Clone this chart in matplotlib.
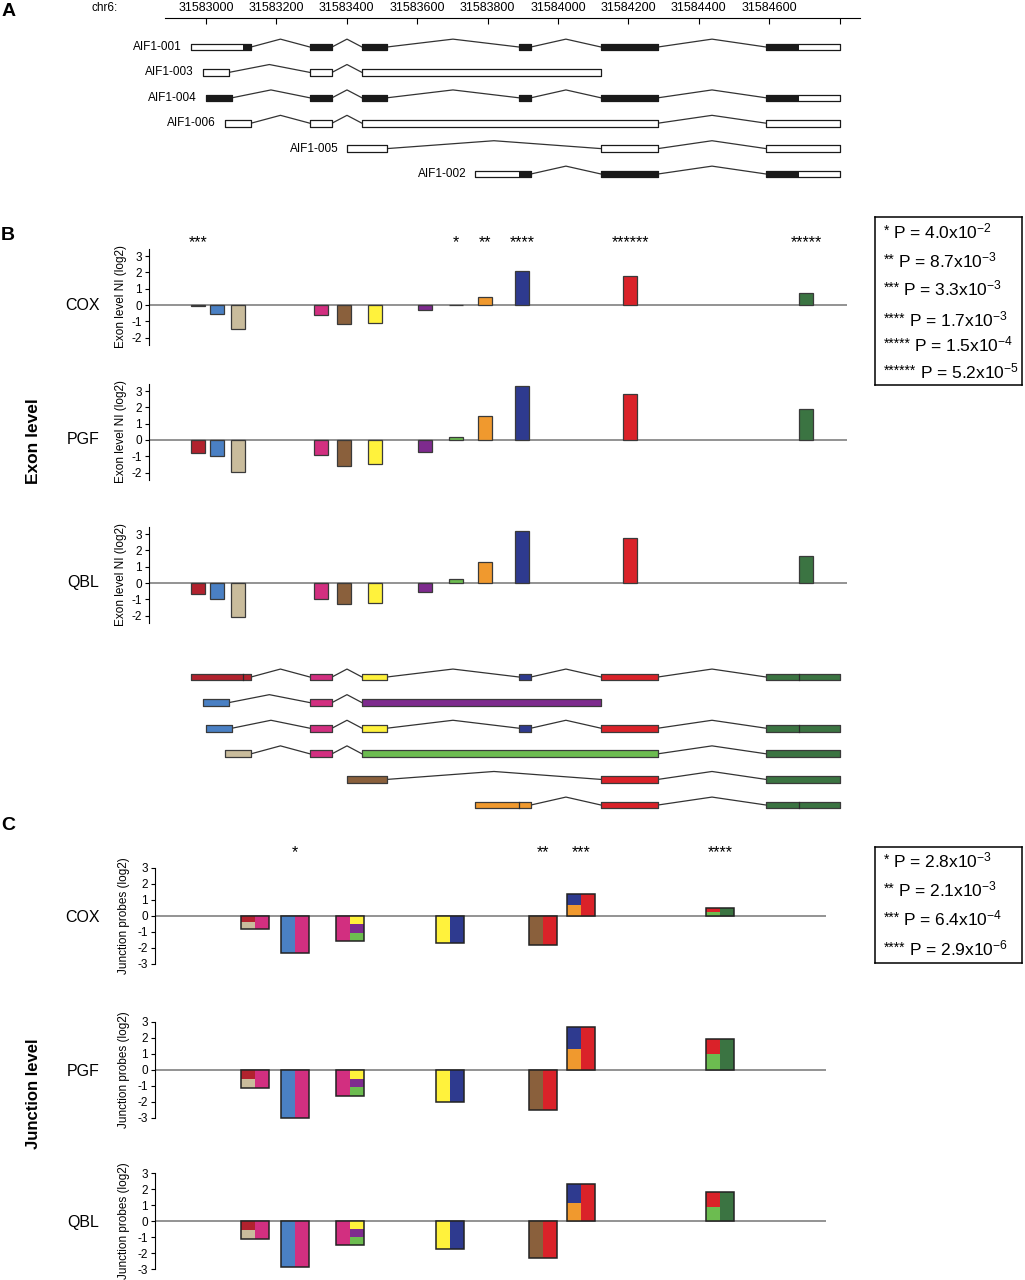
import numpy as np
import matplotlib.pyplot as plt

plt.rcParams['font.family'] = ['Liberation Sans', 'DejaVu Sans']
plt.rcParams['axes.unicode_minus'] = False
plt.rcParams['mathtext.fontset'] = 'custom'
plt.rcParams['mathtext.rm'] = 'Liberation Sans'
plt.rcParams['mathtext.it'] = 'Liberation Sans:italic'
plt.rcParams['mathtext.bf'] = 'Liberation Sans:bold'

# ---------------- data ----------------
tx_names = ["AIF1-001", "AIF1-003", "AIF1-004", "AIF1-006", "AIF1-005", "AIF1-002"]
tx_exons = [
    [(31582957, 31583128), (31583295, 31583358), (31583443, 31583514), (31583889, 31583923), (31584122, 31584284), (31584591, 31584801)],
    [(31582991, 31583065), (31583295, 31583358), (31583443, 31584122)],
    [(31583000, 31583074), (31583295, 31583358), (31583443, 31583514), (31583889, 31583923), (31584122, 31584284), (31584591, 31584801)],
    [(31583054, 31583128), (31583295, 31583358), (31583443, 31584284), (31584591, 31584801)],
    [(31583401, 31583514), (31584122, 31584284), (31584591, 31584801)],
    [(31583764, 31583923), (31584122, 31584284), (31584591, 31584801)],
]
tx_cds = [(31583105, 31584685), None, (31583000, 31584685), None, None, (31583889, 31584685)]
# which exon probe set (colour) each exon belongs to
tx_exon_ids = [[0, 3, 5, 9, 10, 11], [1, 3, 6], [1, 3, 5, 9, 10, 11], [2, 3, 7, 11], [4, 10, 11], [8, 10, 11]]

exon_colors = ['#B2222E', '#4A80C4', '#C9BC9C', '#D22F80', '#8A603C', '#FFF23C',
               '#7E2B8E', '#6CBC50', '#F0992E', '#2E3A8F', '#DA2229', '#3B7442']
samples = ['COX', 'PGF', 'QBL']
cox_exon = [-0.06, -0.53, -1.45, -0.63, -1.16, -1.12, -0.31, 0.0, 0.49, 2.07, 1.75, 0.72]
pgf_exon = [-0.81, -1.01, -1.95, -0.91, -1.60, -1.48, -0.73, 0.16, 1.46, 3.30, 2.84, 1.91]
qbl_exon = [-0.68, -1.01, -2.07, -0.99, -1.26, -1.22, -0.58, 0.23, 1.26, 3.17, 2.77, 1.67]
exon_stars = ['***', '', '', '', '', '', '', '*', '**', '****', '******', '*****']
exon_legend = ['4.0x10$^{-2}$', '8.7x10$^{-3}$', '3.3x10$^{-3}$', '1.7x10$^{-3}$', '1.5x10$^{-4}$', '5.2x10$^{-5}$']

junc_left = [[0, 2], [1], [3], [5], [4], [8, 9], [7, 10]]
junc_right = [[3], [3], [5, 6, 7], [9], [10], [10], [11]]
cox_junc = [-0.81, -2.33, -1.58, -1.69, -1.81, 1.37, 0.52]
pgf_junc = [-1.11, -2.98, -1.61, -2.01, -2.52, 2.67, 1.94]
qbl_junc = [-1.15, -2.85, -1.49, -1.72, -2.31, 2.31, 1.79]
junc_stars = ['', '*', '', '', '**', '***', '****']
junc_legend = ['2.8x10$^{-3}$', '2.1x10$^{-3}$', '6.4x10$^{-4}$', '2.9x10$^{-6}$']

# ---------------- layout ----------------
W, H = 1025, 1280
fig = plt.figure(figsize=(W / 100, H / 100), dpi=100)

def rect(x0, y0, x1, y1):
    return [x0 / W, 1 - y1 / H, (x1 - x0) / W, (y1 - y0) / H]

def g_at(px):  # pixel column -> genomic position
    return 31583000 + (px - 206) / 0.352

def ftext(x, y, s, **kw):
    fig.text(x / W, 1 - y / H, s, **kw)

exon_pos = [31582977, 31583031, 31583091, 31583327, 31583392, 31583480,
            31583622, 31583710, 31583793, 31583898, 31584205, 31584705]
junc_pos = [31583139, 31583253, 31583409, 31583693, 31583957, 31584065, 31584460]
EXW = 40
JHW = 40

def draw_structure(ax, colored):
    h = 0.26
    for row, (exons, cds, ids) in enumerate(zip(tx_exons, tx_cds, tx_exon_ids)):
        for (s1, e1), (s2, e2) in zip(exons[:-1], exons[1:]):
            ax.plot([e1, (e1 + s2) / 2, s2], [row, row - 0.31, row], color='#333333', lw=0.9, zorder=1)
        for k, (s, e) in enumerate(exons):
            if colored:
                ax.broken_barh([(s, e - s)], (row - h / 2, h), facecolors=exon_colors[ids[k]],
                               edgecolors='#3a3a3a', linewidth=0.9, zorder=2)
                if cds is not None:
                    for c in cds:
                        if s < c < e:
                            ax.plot([c, c], [row - h / 2, row + h / 2], color='#2a2a2a', lw=0.9, zorder=3)
            else:
                ax.broken_barh([(s, e - s)], (row - h / 2, h), facecolors='white',
                               edgecolors='none', zorder=2)
                if cds is not None:
                    cs, ce = max(s, cds[0]), min(e, cds[1])
                    if ce > cs:
                        ax.broken_barh([(cs, ce - cs)], (row - h / 2, h), facecolors='#1a1a1a',
                                       edgecolors='none', zorder=3)
                ax.broken_barh([(s, e - s)], (row - h / 2, h), facecolors='none',
                               edgecolors='#1a1a1a', linewidth=0.9, zorder=4)

# ---- panel A ----
axA = fig.add_axes(rect(165, 18, 860, 190))
axA.set_xlim(g_at(165), g_at(860))
axA.set_ylim(5.63, -1.142)
draw_structure(axA, False)
for row, name in enumerate(tx_names):
    axA.text(tx_exons[row][0][0] - 25, row, name, ha='right', va='center', fontsize=8.5)
for s in ['bottom', 'left', 'right']:
    axA.spines[s].set_visible(False)
axA.spines['top'].set_linewidth(0.8)
axA.xaxis.tick_top()
ticks = list(range(31583000, 31584801, 200))
axA.set_xticks(ticks)
axA.set_xticklabels([str(t) for t in ticks[:-1]] + [''])
axA.tick_params(axis='x', direction='in', length=4, width=0.8, pad=3, labelsize=9)
axA.set_yticks([])
ftext(92, 8, 'chr6:', ha='left', va='center', fontsize=8.5)
ftext(9, 11, 'A', ha='center', va='center', fontsize=14, fontweight='bold')

# ---- panel B: exon level ----
ftext(8, 236, 'B', ha='center', va='center', fontsize=14, fontweight='bold')
ftext(33, 441, 'Exon level', ha='center', va='center', rotation=90, fontsize=12.5, fontweight='bold')
unit = 16.3
for name, vals, zero in zip(samples, [cox_exon, pgf_exon, qbl_exon], [305, 440, 583]):
    ax = fig.add_axes(rect(149, zero - 3.5 * unit, 847, zero + 2.5 * unit))
    ax.set_xlim(g_at(149), g_at(847))
    ax.set_ylim(-2.5, 3.5)
    ax.axhline(0, color='#8a8a8a', lw=1.3, zorder=1)
    ax.bar(exon_pos, vals, width=EXW, color=exon_colors, edgecolor='#3a3a3a', linewidth=0.9, zorder=2)
    for s in ['top', 'right', 'bottom']:
        ax.spines[s].set_visible(False)
    ax.spines['left'].set_bounds(-2.45, 3.45)
    ax.spines['left'].set_linewidth(0.8)
    ax.set_xticks([])
    ax.set_yticks(range(-2, 4))
    ax.tick_params(axis='y', length=3, width=0.8, pad=2, labelsize=8.5)
    ftext(83, zero, name, ha='center', va='center', fontsize=11.5)
    ftext(121, zero - 0.5 * unit, 'Exon level NI (log2)', ha='center', va='center', rotation=90, fontsize=8.5)
    if name == 'COX':
        for x, st in zip(exon_pos, exon_stars):
            ax.text(x, 3.8, st, ha='center', va='center', fontsize=11.5, clip_on=False)

def legend_box(y0, y1, labels, rows):
    lax = fig.add_axes(rect(875, y0, 1022, y1))
    lax.set_xticks([])
    lax.set_yticks([])
    for s in lax.spines.values():
        s.set_linewidth(1.1)
    for i, (lab, yr) in enumerate(zip(labels, rows)):
        yf = 1 - (yr - y0 - 1) / (y1 - y0)
        st = lax.text(0.06, yf, '*' * (i + 1), ha='left', va='center', fontsize=10,
                      transform=lax.transAxes)
        lax.annotate('P = ' + lab, xy=(1, 0), xycoords=st, xytext=(2.5, -2.5),
                     textcoords='offset points', ha='left', va='bottom', fontsize=12.5)

legend_box(217, 385, exon_legend, [232, 261, 289, 320, 345, 372])

# ---- colored transcript structures ----
axS = fig.add_axes(rect(165, 655, 860, 815))
axS.set_xlim(g_at(165), g_at(860))
axS.set_ylim(5.39, -0.859)
draw_structure(axS, True)
axS.axis('off')

# ---- panel C: junction level ----
ftext(8, 826, 'C', ha='center', va='center', fontsize=14, fontweight='bold')
ftext(33, 1094, 'Junction level', ha='center', va='center', rotation=90, fontsize=12, fontweight='bold')
unit = 16.0
for name, vals, zero in zip(samples, [cox_junc, pgf_junc, qbl_junc], [916, 1070, 1221]):
    ax = fig.add_axes(rect(155, zero - 3.3 * unit, 826, zero + 3.3 * unit))
    ax.set_xlim(g_at(155), g_at(826))
    ax.set_ylim(-3.3, 3.3)
    ax.axhline(0, color='#8a8a8a', lw=1.3, zorder=1)
    for x, v, lc, rc in zip(junc_pos, vals, junc_left, junc_right):
        for cols, x0 in [(lc, x - JHW), (rc, x)]:
            n = len(cols)
            for k, c in enumerate(cols):
                ax.bar(x0, v / n, bottom=k * v / n, width=JHW, align='edge',
                       color=exon_colors[c], edgecolor='none', zorder=2)
        ax.bar(x, v, width=2 * JHW, fill=False, edgecolor='#222222', linewidth=1.1, zorder=3)
    for s in ['top', 'right', 'bottom']:
        ax.spines[s].set_visible(False)
    ax.spines['left'].set_bounds(-3, 3)
    ax.spines['left'].set_linewidth(0.8)
    ax.set_xticks([])
    ax.set_yticks(range(-3, 4))
    ax.tick_params(axis='y', length=3, width=0.8, pad=2, labelsize=8.5)
    ftext(83, zero + 1, name, ha='center', va='center', fontsize=11.5)
    ftext(124, zero, 'Junction probes (log2)', ha='center', va='center', rotation=90, fontsize=8.5)
    if name == 'COX':
        for x, st in zip(junc_pos, junc_stars):
            ax.text(x, 3.95, st, ha='center', va='center', fontsize=11.5, clip_on=False)

legend_box(847, 963, junc_legend, [861, 890, 919, 949])

fig.savefig('out.png', dpi=100)
